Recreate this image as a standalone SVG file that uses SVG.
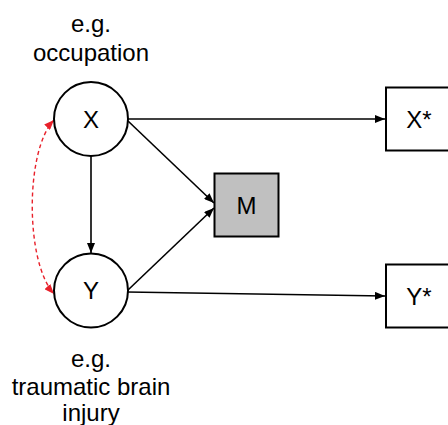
<svg xmlns="http://www.w3.org/2000/svg" width="448" height="425" viewBox="0 0 448 425">
  <style>
    .node { fill: #ffffff; stroke: #000000; stroke-width: 2; }
    .med { fill: #c0c0c0; stroke: #000000; stroke-width: 2; }
    .lbl { font-family: "Liberation Sans", Arial, sans-serif; font-size: 24px; fill: #000000; text-anchor: middle; }
    .edge { fill: none; stroke: #000000; stroke-width: 1.6; }
    .assoc { fill: none; stroke: #e8202a; stroke-width: 1.4; stroke-dasharray: 4 3; }
  </style>
  <defs>
    <marker id="arrow" viewBox="0 0 10 8" refX="10" refY="4" markerWidth="10" markerHeight="8" markerUnits="userSpaceOnUse" orient="auto">
      <path d="M0,0 L10,4 L0,8 z" fill="#000000"/>
    </marker>
    <marker id="arrowRed" viewBox="0 0 10 8" refX="10" refY="4" markerWidth="10" markerHeight="8" markerUnits="userSpaceOnUse" orient="auto-start-reverse">
      <path d="M0,0 L10,4 L0,8 z" fill="#e8202a"/>
    </marker>
  </defs>

  <!-- connectors -->
  <g id="connectors">
    <line class="edge" x1="128" y1="119" x2="385" y2="119" marker-end="url(#arrow)"/>
    <line class="edge" x1="127" y1="292" x2="385" y2="296" marker-end="url(#arrow)"/>
    <line class="edge" x1="128" y1="121" x2="214" y2="203" marker-end="url(#arrow)"/>
    <line class="edge" x1="128" y1="290" x2="214" y2="208" marker-end="url(#arrow)"/>
    <line class="edge" x1="91" y1="156" x2="91" y2="253" marker-end="url(#arrow)"/>
    <path class="assoc" d="M54,120 C25,150 25,262 54,294" marker-start="url(#arrowRed)" marker-end="url(#arrowRed)"/>
  </g>

  <!-- exposure X -->
  <g id="node-x">
    <circle class="node" cx="91" cy="119" r="37"/>
    <text class="lbl" x="91" y="128">X</text>
    <text class="lbl" x="91" y="32">e.g.</text>
    <text class="lbl" x="91" y="61">occupation</text>
  </g>

  <!-- outcome Y -->
  <g id="node-y">
    <circle class="node" cx="91" cy="290.5" r="37"/>
    <text class="lbl" x="91" y="299">Y</text>
    <text class="lbl" x="91" y="367">e.g.</text>
    <text class="lbl" x="91" y="395">traumatic brain</text>
    <text class="lbl" x="91" y="421">injury</text>
  </g>

  <!-- mediator M -->
  <g id="node-m">
    <rect class="med" x="214.5" y="173.5" width="64" height="63"/>
    <text class="lbl" x="246.5" y="214">M</text>
  </g>

  <!-- measured X* -->
  <g id="node-xstar">
    <rect class="node" x="386" y="87.5" width="65" height="63"/>
    <text class="lbl" x="419" y="128">X*</text>
  </g>

  <!-- measured Y* -->
  <g id="node-ystar">
    <rect class="node" x="386" y="264.5" width="65" height="63"/>
    <text class="lbl" x="419" y="305">Y*</text>
  </g>
</svg>
